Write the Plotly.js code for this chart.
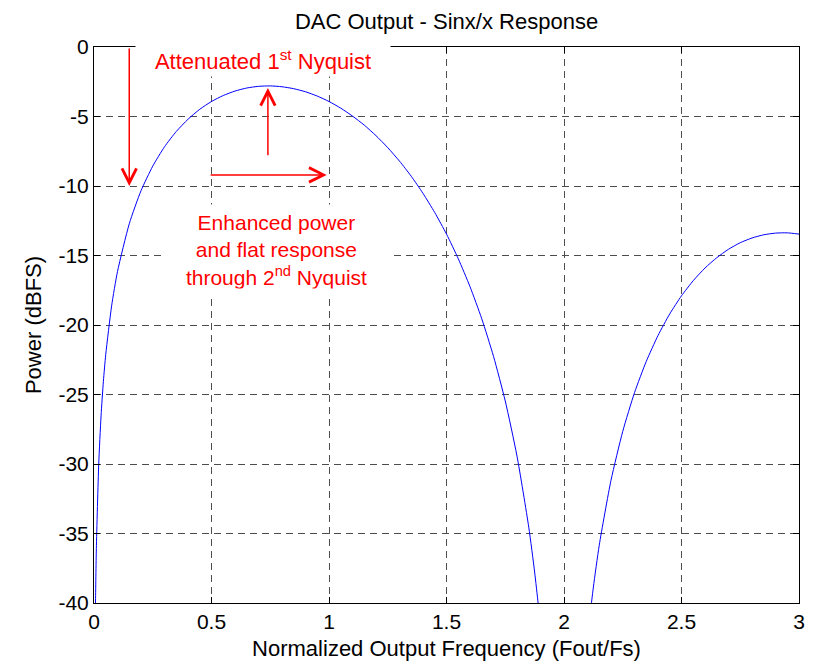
<!DOCTYPE html>
<html>
<head>
<meta charset="utf-8">
<script src="https://cdn.plot.ly/plotly-3.0.1.min.js"></script>
<style>
  html, body { margin: 0; padding: 0; background: #ffffff; }
  #chart { width: 818px; height: 664px; }
</style>
</head>
<body>
<div id="chart"></div>
<script>
// Normalized output frequency (Fout/Fs)
const freq = [
  0.005, 0.0064, 0.01, 0.02, 0.03, 0.04, 0.05, 0.075, 0.1, 0.15, 0.2, 0.25, 0.3, 0.35,
  0.4, 0.45, 0.5, 0.55, 0.6, 0.65, 0.7, 0.75, 0.8, 0.85, 0.9, 0.95,
  1.0, 1.05, 1.1, 1.15, 1.2, 1.25, 1.3, 1.35, 1.4, 1.45, 1.5, 1.55,
  1.6, 1.65, 1.7, 1.75, 1.8, 1.85, 1.875, 1.89, 1.9
];
// Output power (dBFS), first and second lobes
const power = [
  -42.1, -40.0, -36.08, -30.06, -26.54, -24.04, -22.12, -18.62, -16.15, -12.72, -10.34, -8.57, -7.18, -6.08,
  -5.20, -4.48, -3.92, -3.49, -3.17, -2.95, -2.83, -2.80, -2.86, -3.00, -3.22, -3.53,
  -3.92, -4.40, -4.97, -5.62, -6.38, -7.24, -8.21, -9.30, -10.53, -11.91, -13.46, -15.23,
  -17.24, -19.55, -22.25, -25.47, -29.43, -34.54, -37.77, -40.04, -41.7
];
const freq2 = [
  2.1, 2.11, 2.125, 2.15, 2.2, 2.25, 2.3, 2.35, 2.4, 2.45, 2.5, 2.55,
  2.6, 2.65, 2.7, 2.75, 2.8, 2.85, 2.9, 2.95, 3.0
];
const power2 = [
  -42.59, -40.99, -38.86, -35.84, -31.17, -27.65, -24.87, -22.62, -20.76, -19.20, -17.90, -16.81,
  -15.90, -15.16, -14.55, -14.08, -13.74, -13.51, -13.39, -13.37, -13.46
];

const xTicks = [0, 0.5, 1, 1.5, 2, 2.5, 3];
const xTickText = ['0', '0.5', '1', '1.5', '2', '2.5', '3'];
const yTicks = [-40, -35, -30, -25, -20, -15, -10, -5, 0];
const yTickText = ['-40', '-35', '-30', '-25', '-20', '-15', '-10', '-5', '0'];

const FONT = 'Liberation Sans, Arial, sans-serif';
const RED = '#ff0000';

const curve = {
  x: freq.concat([null], freq2),
  y: power.concat([null], power2),
  type: 'scatter',
  mode: 'lines',
  line: { color: '#0000ff', width: 1, shape: 'spline', smoothing: 0.6 },
  connectgaps: false,
  hoverinfo: 'skip',
  showlegend: false
};

function arrow(tailX, tailY, tipX, tipY) {
  return {
    x: tipX, y: tipY, ax: tailX, ay: tailY,
    xref: 'x', yref: 'y', axref: 'x', ayref: 'y',
    text: '', showarrow: true,
    arrowhead: 5, arrowsize: 1.9, arrowwidth: 1.5,
    arrowcolor: RED, standoff: 0, startstandoff: 0
  };
}

const gridStyle = {
  showgrid: true,
  gridcolor: '#4d4d4d',
  gridwidth: 1,
  griddash: '7px,5px',
  zeroline: false,
  showline: true,
  linecolor: '#000000',
  linewidth: 1,
  mirror: 'ticks',
  ticks: 'inside',
  ticklen: 6,
  tickcolor: '#000000',
  tickwidth: 1,
  tickmode: 'array',
  tickfont: { family: FONT, size: 21, color: '#000000' }
};

const layout = {
  width: 818,
  height: 664,
  margin: { l: 94, r: 19, t: 47, b: 61 },
  paper_bgcolor: '#ffffff',
  plot_bgcolor: '#ffffff',
  font: { family: FONT, color: '#000000' },
  title: {
    text: 'DAC Output - Sinx/x Response',
    font: { family: FONT, size: 22, color: '#000000' },
    x: 0.5, xref: 'paper',
    y: 1 - 21 / 664, yref: 'container',
    xanchor: 'center', yanchor: 'middle'
  },
  xaxis: Object.assign({}, gridStyle, {
    range: [0, 3],
    tickvals: xTicks,
    ticktext: xTickText,
    title: {
      text: 'Normalized Output Frequency (Fout/Fs)',
      font: { family: FONT, size: 22, color: '#000000' },
      standoff: 8
    }
  }),
  yaxis: Object.assign({}, gridStyle, {
    range: [-40, 0],
    tickvals: yTicks,
    ticktext: yTickText,
    title: {
      text: 'Power (dBFS)',
      font: { family: FONT, size: 22, color: '#000000' },
      standoff: 10
    }
  }),
  annotations: [
    {
      x: 0.717, y: -0.9, xref: 'x', yref: 'y',
      text: 'Attenuated 1<sup>st</sup> Nyquist',
      showarrow: false,
      font: { family: FONT, size: 22, color: RED },
      bgcolor: '#ffffff',
      width: 250,
      borderpad: 2,
      xanchor: 'center', yanchor: 'middle'
    },
    {
      x: 0.777, y: -14.6, xref: 'x', yref: 'y',
      text: 'Enhanced power<br>and flat response<br>through 2<sup>nd</sup> Nyquist',
      showarrow: false,
      font: { family: FONT, size: 21, color: RED },
      bgcolor: '#ffffff',
      width: 215,
      borderpad: 6,
      align: 'center',
      xanchor: 'center', yanchor: 'middle'
    },
    arrow(0.15, 0, 0.15, -10),
    arrow(0.74, -7.9, 0.74, -2.95),
    arrow(0.49, -9.2, 0.99, -9.2)
  ]
};

Plotly.newPlot('chart', [curve], layout, { staticPlot: true, displayModeBar: false });
</script>
</body>
</html>
